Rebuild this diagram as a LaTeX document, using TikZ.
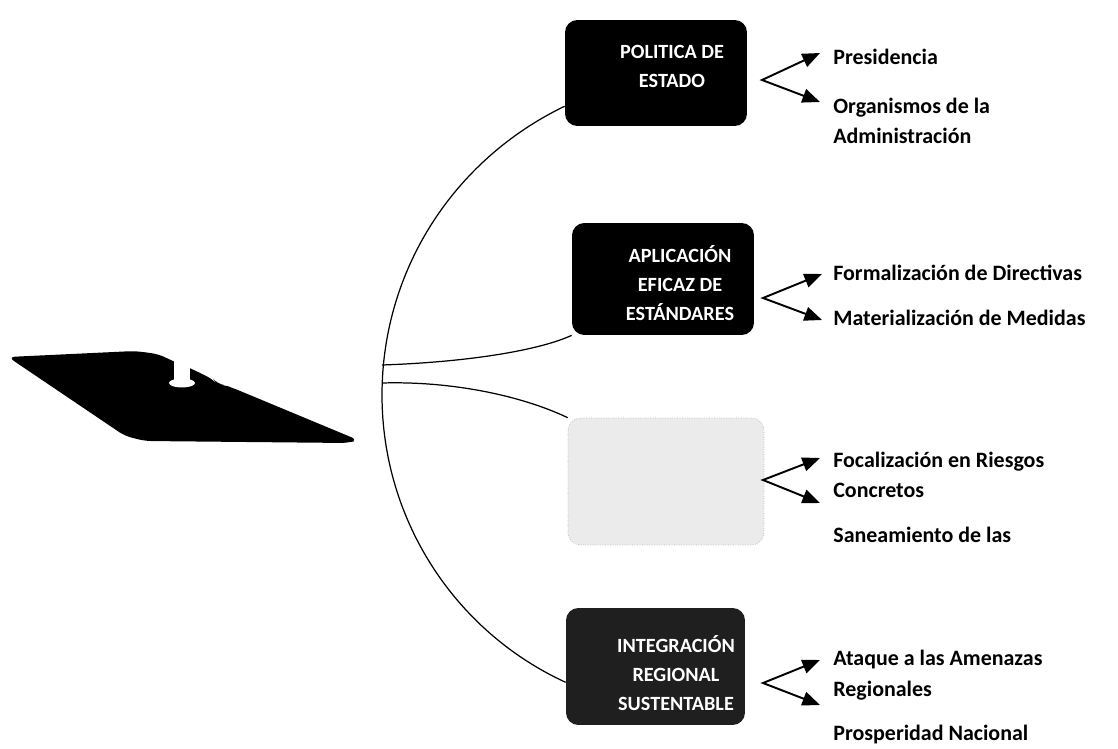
\documentclass[tikz,border=0pt]{standalone}
\usepackage{fontspec}
\setmainfont{Carlito}
\usetikzlibrary{arrows.meta}

\tikzset{
  caja/.style={rounded corners=7pt, fill=black, inner sep=0pt},
  textocaja/.style={text=white, align=center, inner sep=0pt, font=\bfseries\fontsize{11.5}{16.5}\selectfont},
  rama/.style={anchor=west, align=left, inner sep=0pt, font=\bfseries\fontsize{12.5}{17.5}\selectfont},
  flecha/.style={{Triangle[length=10pt,width=8pt]}-{Triangle[length=10pt,width=8pt]}, line width=1.1pt},
  linea/.style={line width=0.7pt}
}

\begin{document}
\begin{tikzpicture}[x=0.02cm,y=-0.02cm]
	\useasboundingbox (0,0) rectangle (1118,749);
	% figura de la izquierda
	\fill[rounded corners=4pt] (8,357) -- (135,351) -- (158,354) -- (175,362) -- (192,369) -- (214,380) -- (217,384) -- (224,385) -- (233,388) -- (358,440) -- (348,443) -- (145,441) -- (125,436) -- cycle;
	\fill[white] (174,356) rectangle (190,380);
	\fill[white] (182,383) ellipse [x radius=13, y radius=4.5];
	% cajas
	\node[caja, minimum width=3.64cm, minimum height=2.12cm] (estado) at (656,73) {};
	\node[caja, minimum width=3.64cm, minimum height=2.24cm] (aplicacion) at (663,279) {};
	\node[caja, fill=black!8, draw=black!30, densely dotted, minimum width=3.92cm, minimum height=2.54cm] (focal) at (666,481.5) {};
	\node[caja, fill=black!88, minimum width=3.58cm, minimum height=2.34cm] (regional) at (655.5,666.5) {};
	\node[textocaja] (t1) at (672,66) {POLITICA DE\\ESTADO};
	\node[textocaja] (t2) at (680,283) {APLICACIÓN\\EFICAZ DE\\ESTÁNDARES};
	\node[textocaja] (t4) at (676,673) {INTEGRACIÓN\\REGIONAL\\SUSTENTABLE};
	% lineas desde el centro
	\coordinate (centro) at (382,395);
	\coordinate (h1) at (382,365);
	\coordinate (h2) at (382,383);
	\draw[linea] (estado.200) .. controls (453,160) and (382,271) .. (centro) .. controls (382,519) and (454,631) .. (regional.190);
	\draw[linea] (h1) .. controls (470,362) and (540,350) .. (aplicacion.south west);
	\draw[linea] (h2) .. controls (450,381) and (520,395) .. (focal.north west);
	% ramas
	\node[rama] (pres) at (833,57) {Presidencia};
	\node[rama] (org) at (833,121) {Organismos de la\\Administración};
	\node[rama] (form) at (833,273) {Formalización de Directivas};
	\node[rama] (mat) at (833,318) {Materialización de Medidas};
	\node[rama] (foc) at (833,475) {Focalización en Riesgos\\Concretos};
	\node[rama] (san) at (833,535) {Saneamiento de las};
	\node[rama] (ataq) at (833,675) {Ataque a las Amenazas\\Regionales};
	\node[rama] (pros) at (833,735) {Prosperidad Nacional};
	\coordinate (v1) at (762,80);  \coordinate (a1) at (820,53);  \coordinate (b1) at (820,102);
	\coordinate (v2) at (763,298); \coordinate (a2) at (822,274); \coordinate (b2) at (822,320);
	\coordinate (v3) at (763,480); \coordinate (a3) at (820,458); \coordinate (b3) at (820,503);
	\coordinate (v4) at (763,683); \coordinate (a4) at (820,660); \coordinate (b4) at (820,705);
	\draw[flecha] (a1) -- (v1) -- (b1);
	\draw[flecha] (a2) -- (v2) -- (b2);
	\draw[flecha] (a3) -- (v3) -- (b3);
	\draw[flecha] (a4) -- (v4) -- (b4);
\end{tikzpicture}
\end{document}
